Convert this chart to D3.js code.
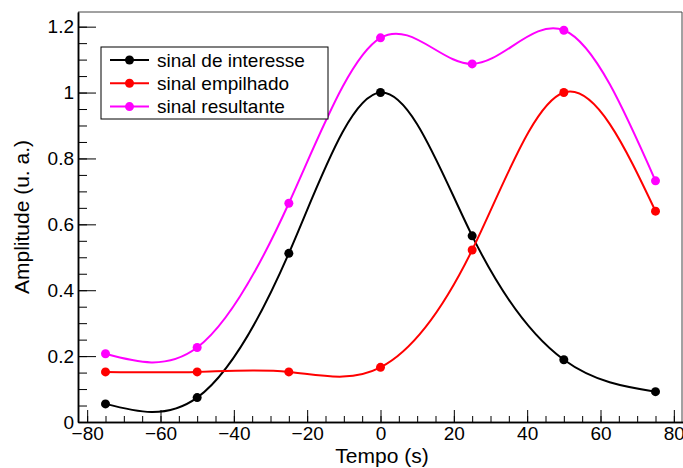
<!DOCTYPE html>
<html>
<head>
<meta charset="utf-8">
<script src="https://cdn.jsdelivr.net/npm/d3@7"></script>
<style>
    body { margin: 0; background: #fff; }
    svg text { font-family: "Liberation Sans", Arial, Helvetica, sans-serif; fill: #000; }
</style>
</head>
<body>
<svg id="chart" width="683" height="468"></svg>
<script>
    // valores
    var tempo = [-75, -50, -25, 0, 25, 50, 75];
    var interesse = [0.055, 0.074, 0.512, 1.0, 0.565, 0.189, 0.092];
    var empilhado = [0.152, 0.152, 0.152, 0.166, 0.522, 1.0, 0.640];
    var resultante = [0.207, 0.226, 0.664, 1.166, 1.087, 1.189, 0.732];

    var xMajor = [-80, -60, -40, -20, 0, 20, 40, 60, 80];
    var yMajor = [0, 0.2, 0.4, 0.6, 0.8, 1, 1.2];

    var series = [
        {name: "sinal de interesse", values: interesse, color: "#000000"},
        {name: "sinal empilhado", values: empilhado, color: "#ff0000"},
        {name: "sinal resultante", values: resultante, color: "#ff00ff"}
    ];

    var svg = d3.select("#chart"),
        padLeft = 78, padRight = 682, padTop = 12, padBottom = 422;

    var x = d3.scaleLinear().domain([-82.5, 82.5]).range([padLeft, padRight + 1]);
    var y = d3.scaleLinear().domain([0, 1.2445]).range([padBottom, padTop]);

    var xMinor = d3.range(-80, 81, 5),
        yMinor = d3.range(0, 1.21, 0.05);

    // moldura (topo e direita)
    svg.append("path")
        .attr("d", "M" + padLeft + "," + padTop + "H" + padRight + "V" + padBottom)
        .attr("fill", "none")
        .attr("stroke", "#444")
        .attr("stroke-width", 1);

    var fmt = d3.format("~g");

    // eixo x
    svg.append("g")
        .attr("transform", "translate(0," + padBottom + ")")
        .call(d3.axisBottom(x).tickValues(xMinor).tickSizeInner(-6).tickSizeOuter(0).tickFormat(""));
    var gx = svg.append("g")
        .attr("transform", "translate(0," + padBottom + ")")
        .call(d3.axisBottom(x).tickValues(xMajor).tickSizeInner(-12).tickSizeOuter(0)
            .tickPadding(5).tickFormat(fmt));
    gx.selectAll("text").style("font-size", "19px");

    // eixo y
    svg.append("g")
        .attr("transform", "translate(" + padLeft + ",0)")
        .call(d3.axisLeft(y).tickValues(yMinor).tickSizeInner(-9).tickSizeOuter(0).tickFormat(""));
    var gy = svg.append("g")
        .attr("transform", "translate(" + padLeft + ",0)")
        .call(d3.axisLeft(y).tickValues(yMajor).tickSizeInner(-18).tickSizeOuter(0)
            .tickPadding(4).tickFormat(fmt));
    gy.selectAll("text").style("font-size", "19px");

    svg.selectAll(".domain").attr("stroke", "#000").attr("stroke-width", 1.5);
    svg.selectAll(".tick line").attr("stroke", "#000");

    // titulos
    svg.append("text")
        .attr("x", (padLeft + padRight) / 2 + 2)
        .attr("y", 463)
        .attr("text-anchor", "middle")
        .style("font-size", "21px")
        .text("Tempo (s)");
    svg.append("text")
        .attr("transform", "translate(29," + ((padTop + padBottom) / 2) + ") rotate(-90)")
        .attr("text-anchor", "middle")
        .style("font-size", "21px")
        .text("Amplitude (u. a.)");

    // curvas
    var line = d3.line()
        .x(function (d, i) { return x(tempo[i]); })
        .y(function (d) { return y(d); })
        .curve(d3.curveNatural);

    series.forEach(function (s) {
        svg.append("path")
            .datum(s.values)
            .attr("d", line)
            .attr("fill", "none")
            .attr("stroke", s.color)
            .attr("stroke-width", 2);
        svg.append("g").selectAll("circle")
            .data(s.values)
            .enter().append("circle")
            .attr("cx", function (d, i) { return x(tempo[i]); })
            .attr("cy", function (d) { return y(d); })
            .attr("r", 4.5)
            .attr("fill", s.color);
    });

    // legenda
    var legend = svg.append("g").attr("transform", "translate(101,47)");
    legend.append("rect")
        .attr("width", 227)
        .attr("height", 72)
        .attr("fill", "#fff")
        .attr("stroke", "#000")
        .attr("stroke-width", 1);
    series.forEach(function (s, i) {
        var row = legend.append("g").attr("transform", "translate(0," + (13 + i * 23.3) + ")");
        row.append("line")
            .attr("x1", 9).attr("x2", 48)
            .attr("stroke", s.color)
            .attr("stroke-width", 2);
        row.append("circle")
            .attr("cx", 28.5)
            .attr("r", 4.5)
            .attr("fill", s.color);
        row.append("text")
            .attr("x", 56)
            .attr("dy", "0.35em")
            .style("font-size", "19px")
            .text(s.name);
    });
</script>
</body>
</html>
